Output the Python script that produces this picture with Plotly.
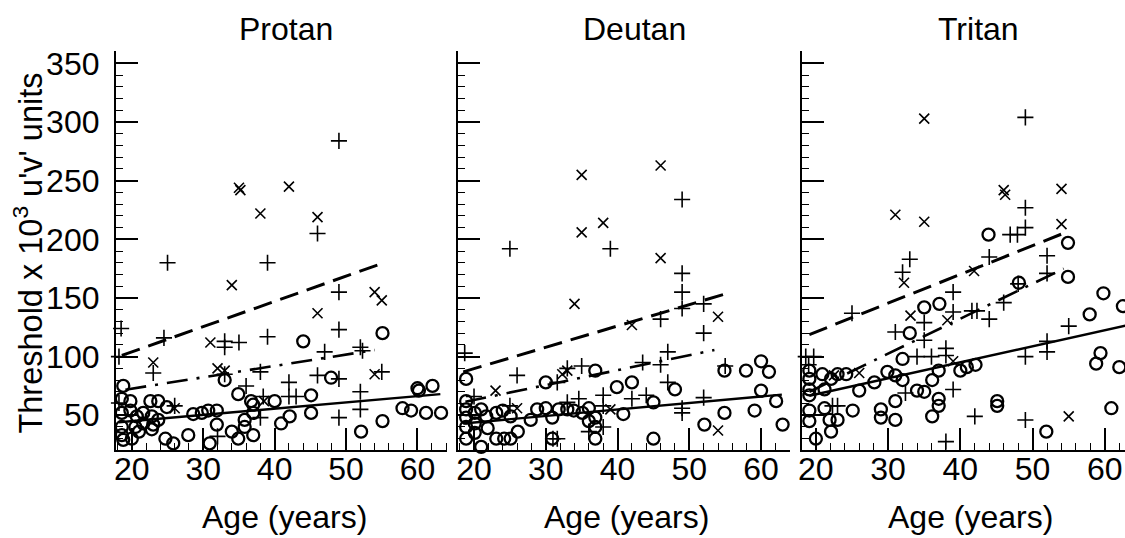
import plotly.graph_objects as go

W, H = 1125, 538

# ---------------- data ----------------
panel_names = ["Protan", "Deutan", "Tritan"]
x_ticks = [20, 30, 40, 50, 60]
y_ticks = [50, 100, 150, 200, 250, 300, 350]

# Protan
protan_o_age = [18.8, 18.6, 19.8, 18.6, 19.8, 18.6, 18.6, 18.8, 20.7, 21.6, 22.6, 23.7, 24.9, 22.8, 21.6, 22.8,
                23.7, 24.7, 25.8, 27.9, 28.6, 29.8, 30.7, 31.9, 31.9, 30.9, 33.0, 34.9, 34.0, 34.9, 35.8, 35.8,
                36.7, 37.0, 37.0, 40.0, 40.9, 42.1, 44.0, 45.1, 45.1, 47.9, 52.1, 55.1, 55.1, 57.9, 59.1, 60.0,
                60.2, 61.2, 62.1, 63.3, 21.0, 20.0, 23.0, 20.5, 37.0]
protan_o_thr = [75, 64, 62, 52, 54, 40, 33, 29, 49, 52, 62, 62, 57, 49, 43, 38,
                46, 30, 26, 33, 51, 52, 54, 54, 42, 26, 80, 68, 36, 30, 40, 46,
                62, 59, 33, 62, 43, 49, 113, 67, 52, 82, 36, 120, 45, 56, 54, 73,
                71, 52, 75, 52, 36, 30, 42, 40, 52]
protan_p_age = [18.5, 25, 24.5, 23, 39, 39, 33, 33, 35, 49, 46, 49, 49, 47, 52, 52.3, 55, 46, 49, 38, 33, 36,
                42, 42, 43, 52, 52, 49, 32, 38, 38.4, 18.2, 18.2, 26]
protan_p_thr = [124, 180, 116, 86, 180, 117, 113, 108, 112, 284, 205, 155, 123, 104, 108, 105, 87, 84, 81, 87,
                85, 75, 78, 66, 66, 70, 55, 48, 32, 48, 66, 100, 60.5, 58]
protan_x_age = [23, 31, 32, 33, 34, 35, 35.2, 38, 42, 46, 46, 54, 55, 54, 26, 38.5]
protan_x_thr = [95, 112, 90, 88, 161, 244, 242, 222, 245, 219, 137, 155, 148, 85, 56, 62]

# Deutan
deutan_o_age = [18.9, 18.9, 18.9, 18.9, 18.9, 18.9, 20.1, 20.1, 20.1, 21.0, 21.0, 21.7, 21.9, 23.1, 23.1, 24.0,
                24.2, 25.1, 25.1, 26.1, 27.9, 28.8, 30.0, 30.0, 30.9, 30.9, 31.8, 33.0, 33.9, 35.1, 36.0, 36.0,
                36.9, 36.9, 36.9, 36.9, 39.9, 40.8, 42.0, 45.0, 45.0, 48.0, 52.1, 54.9, 54.9, 57.9, 59.1, 60.0,
                61.1, 60.0, 62.1, 63.0]
deutan_o_thr = [81, 62, 55, 48, 40, 30, 52, 43, 35, 55, 23, 49, 39, 52, 30, 54,
                30, 49, 30, 36, 46, 55, 56, 78, 48, 30, 55, 55, 54, 52, 56, 45,
                48, 40, 30, 88, 74, 51, 78, 61, 30, 72, 42, 88, 52, 88, 54, 96,
                87, 71, 62, 42]
deutan_p_age = [25, 39, 49, 49, 49, 49, 52, 52, 46, 47, 43.5, 46, 18.7, 17.6, 26, 33, 35, 31.6, 34.6, 33, 38, 38,
                38, 36, 31, 31.6, 42, 44, 49, 49, 52, 55, 47, 20, 25]
deutan_p_thr = [192, 192, 234, 171, 155, 141, 145, 120, 132, 104, 95, 93, 103, 90, 84, 90, 92, 78, 64, 61, 67, 58,
                40, 36, 30, 30, 64, 67, 56, 52, 65, 92, 78, 66, 58]
deutan_x_age = [35, 35, 38, 46, 46, 34, 42, 54, 23, 32.3, 33, 26, 39, 54]
deutan_x_thr = [255, 206, 214, 263, 184, 145, 127, 134, 71, 85, 88, 56, 55, 37]

# Tritan
tritan_o_age = [19.1, 19.1, 19.1, 19.1, 19.1, 19.1, 20.0, 20.9, 21.2, 22.1, 22.1, 23.0, 24.2, 21.2, 21.9, 23.0,
                25.1, 26.0, 28.1, 29.0, 29.0, 29.9, 31.0, 31.0, 31.0, 32.0, 33.0, 32.0, 34.0, 35.0, 35.0, 36.1,
                37.1, 37.0, 37.0, 37.0, 36.1, 40.0, 40.9, 42.1, 43.9, 45.1, 45.1, 48.1, 54.9, 54.9, 51.9, 57.9,
                59.8, 58.8, 59.4, 60.9, 62.0, 62.5]
tritan_o_thr = [88, 81, 72, 67, 54, 45, 30, 85, 72, 81, 36, 85, 85, 56, 46, 46,
                54, 71, 78, 55, 48, 87, 84, 62, 46, 80, 120, 98, 71, 142, 70, 80,
                145, 88, 64, 58, 49, 88, 91, 93, 204, 62, 58, 163, 197, 168, 36, 136,
                154, 94, 103, 56, 91, 143]
tritan_p_age = [49, 49, 49, 46.9, 47.9, 44, 33, 32, 52, 52, 48, 39, 39, 41.6, 42.3, 44, 46, 25, 35, 35, 31, 34, 36,
                38, 38, 49, 52, 52, 55, 39, 32.4, 42, 49, 38, 18.6, 19.7, 19, 22.3, 23]
tritan_p_thr = [304, 227, 210, 204, 204, 185, 183, 172, 186, 171, 162, 155, 138, 139, 139, 132, 146, 137, 129, 114,
                121, 100, 100, 107, 101, 100, 113, 104, 126, 72, 69, 49, 46, 27.5, 100, 100, 93, 58, 58]
tritan_x_age = [35, 31, 35, 46, 46.2, 54, 54, 32.2, 33.1, 38.2, 41.9, 39, 26, 55, 22.5]
tritan_x_thr = [303, 221, 215, 242, 238, 243, 213, 163, 135, 131, 173, 96, 86, 49, 84]

# fitted regression lines (end points)
fit_age = {"Protan": ([18.6, 55.3], [19.1, 54.0], [18.2, 63.2]),
           "Deutan": ([18.5, 55.0], [18.8, 53.5], [18.5, 62.9]),
           "Tritan": ([19.1, 54.5], [19.1, 54.3], [19.1, 63.0])}
fit_thr = {"Protan": ([101, 180], [71.8, 105.6], [44, 68]),
           "Deutan": ([87, 153.4], [61.5, 105.6], [43, 67.6]),
           "Tritan": ([118.8, 205.7], [70, 175], [66.6, 126.6])}

points = {
    "Protan": ((protan_o_age, protan_o_thr), (protan_p_age, protan_p_thr), (protan_x_age, protan_x_thr)),
    "Deutan": ((deutan_o_age, deutan_o_thr), (deutan_p_age, deutan_p_thr), (deutan_x_age, deutan_x_thr)),
    "Tritan": ((tritan_o_age, tritan_o_thr), (tritan_p_age, tritan_p_thr), (tritan_x_age, tritan_x_thr)),
}

# ---------------- layout geometry (pixels) ----------------
x_dom_px = [(112.3, 445.0), (456.0, 789.3), (800.7, 1125.0)]
x_ranges = [[17.77, 64.19], [17.82, 64.10], [18.06, 62.79]]
y_dom_px = (46.7, 449.0)
y_range = [20.5, 360.4]

FONT = "Liberation Sans, Arial, Helvetica, sans-serif"
FS = 32

fig = go.Figure()

line_styles = ["19px,9px", "21px,9px,3px,9px", "solid"]
line_widths = [3, 2.6, 2.4]

for i, name in enumerate(panel_names):
    xa = "x" if i == 0 else f"x{i+1}"
    ya = "y" if i == 0 else f"y{i+1}"
    (oa, ot), (pa, pt), (xa_, xt) = points[name]
    fig.add_trace(go.Scatter(x=oa, y=ot, mode="markers", xaxis=xa, yaxis=ya, cliponaxis=False,
                             marker=dict(symbol="circle-open", size=12, color="black",
                                         line=dict(width=2.3, color="black")), showlegend=False))
    fig.add_trace(go.Scatter(x=pa, y=pt, mode="markers", xaxis=xa, yaxis=ya, cliponaxis=False,
                             marker=dict(symbol="cross-thin-open", size=11.5, color="black",
                                         line=dict(width=1.6, color="black")), showlegend=False))
    fig.add_trace(go.Scatter(x=xa_, y=xt, mode="markers", xaxis=xa, yaxis=ya, cliponaxis=False,
                             marker=dict(symbol="x-thin-open", size=10, color="black",
                                         line=dict(width=1.6, color="black")), showlegend=False))
    for k in range(3):
        fig.add_trace(go.Scatter(x=fit_age[name][k], y=fit_thr[name][k], mode="lines",
                                 xaxis=xa, yaxis=ya,
                                 line=dict(color="black", width=line_widths[k], dash=line_styles[k]),
                                 showlegend=False))

layout = dict(width=W, height=H, margin=dict(l=0, r=0, t=0, b=0),
              paper_bgcolor="white", plot_bgcolor="white", showlegend=False,
              font=dict(family=FONT, size=FS, color="black"))

y0 = 1 - y_dom_px[1] / H
y1 = 1 - y_dom_px[0] / H
for i in range(3):
    sx = "" if i == 0 else str(i + 1)
    layout["xaxis" + sx] = dict(
        domain=[x_dom_px[i][0] / W, x_dom_px[i][1] / W], range=x_ranges[i],
        anchor="y" + sx, showgrid=False, zeroline=False,
        showline=True, linecolor="black", linewidth=2,
        ticks="inside", ticklen=22, tickwidth=1.6, tickcolor="black",
        tickvals=x_ticks, ticktext=[str(v) for v in x_ticks],
        tickfont=dict(family=FONT, size=FS, color="black"), ticklabelstandoff=-10,
        minor=dict(ticks="inside", ticklen=7, tickwidth=1.3, tickcolor="black", dtick=2, tick0=0,
                   showgrid=False),
    )
    layout["yaxis" + sx] = dict(
        domain=[y0, y1], range=y_range, anchor="x" + sx,
        showgrid=False, zeroline=False,
        showline=True, linecolor="black", linewidth=2,
        ticks="inside", ticklen=22, tickwidth=1.6, tickcolor="black",
        tickvals=y_ticks, ticktext=[str(v) for v in y_ticks], showticklabels=(i == 0),
        tickfont=dict(family=FONT, size=FS, color="black"), ticklabelstandoff=8,
        minor=dict(ticks="inside", ticklen=7, tickwidth=1.3, tickcolor="black", dtick=10, tick0=0,
                   showgrid=False),
    )

annotations = []
title_x_px = [283, 632.7, 978.3]
xlabel_x_px = [281.7, 625, 970]
for i, name in enumerate(panel_names):
    annotations.append(dict(text=name, x=title_x_px[i] / W, y=1 - 24 / H, xref="paper", yref="paper",
                            xanchor="center", yanchor="middle", showarrow=False,
                            font=dict(family=FONT, size=FS, color="black")))
    annotations.append(dict(text="Age (years)", x=xlabel_x_px[i] / W, y=1 - 517 / H, xref="paper",
                            yref="paper", xanchor="center", yanchor="middle", showarrow=False,
                            font=dict(family=FONT, size=FS, color="black")))
annotations.append(dict(text="Threshold x 10<sup>3</sup> u'v' units", x=24 / W, y=1 - 250 / H,
                        xref="paper", yref="paper", xanchor="center", yanchor="middle",
                        textangle=-90, showarrow=False, font=dict(family=FONT, size=32.5, color="black")))
layout["annotations"] = annotations

fig.update_layout(**layout)
fig.write_html("out.html", config={"displayModeBar": False},
               post_script="document.body.style.margin='0px';document.body.style.padding='0px';"
                           "document.body.style.overflow='hidden';")
